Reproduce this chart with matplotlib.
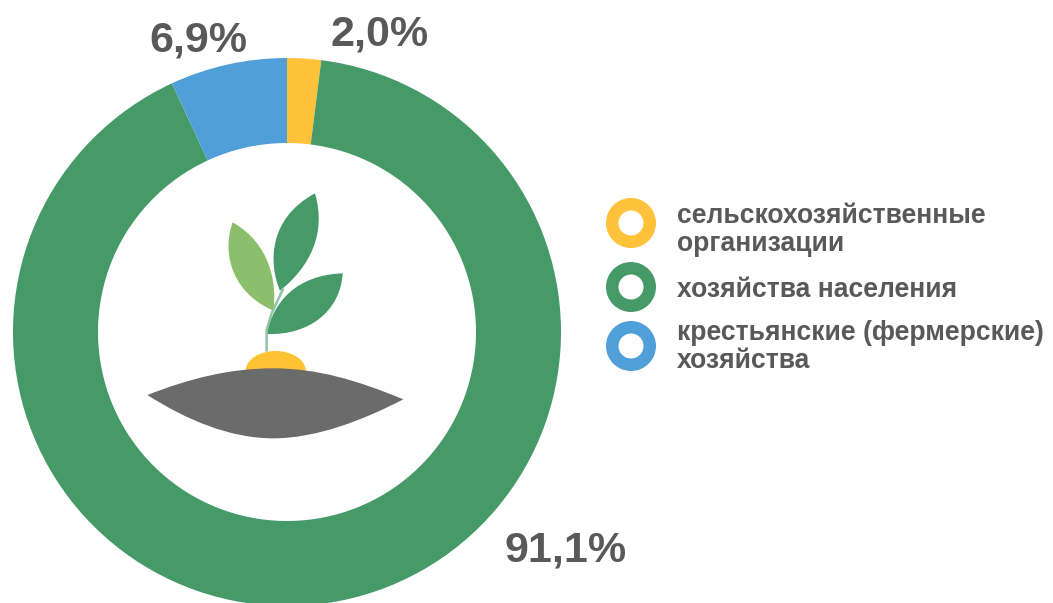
import matplotlib
matplotlib.use('Agg')
import matplotlib.pyplot as plt
from matplotlib.patches import PathPatch, Wedge, Ellipse
from matplotlib.path import Path

labels = ['сельскохозяйственные\nорганизации', 'хозяйства населения', 'крестьянские (фермерские)\nхозяйства']
values = [2.0, 91.1, 6.9]
value_text = ['2,0%', '91,1%', '6,9%']
colors = ['#FFC23A', '#459A67', '#519FD9']

W, H = 1053, 603
TEXT = '#595959'
plt.rcParams['font.family'] = ['Liberation Sans', 'DejaVu Sans']

fig = plt.figure(figsize=(W/100, H/100), dpi=100)
ax = fig.add_axes([0, 0, 1, 1])

# donut
ax.pie(values, colors=colors, startangle=90, counterclock=False,
       center=(287, H-332), radius=274, wedgeprops=dict(width=85, linewidth=0))
ax.set_xlim(0, W)
ax.set_ylim(0, H)
ax.set_aspect('equal')
ax.axis('off')

# value labels
label_pos = [(380, 34), (566, 550), (198, 41)]
for t, (x, y) in zip(value_text, label_pos):
    ax.text(x, H-y, t, fontsize=31, fontweight='bold', color=TEXT, ha='center', va='center')

# legend
ring_y = [223, 287, 346]
text_y = [230, 290, 347]
for lab, c, ry, ty in zip(labels, colors, ring_y, text_y):
    ax.add_patch(Wedge((631, H-ry), 25, 0, 360, width=12.5, fc=c, lw=0))
    ax.text(677, H-ty, lab, fontsize=19.1, fontweight='bold', color=TEXT, ha='left', va='center', linespacing=1.14)


# plant icon, points taken from the zoomed crop
def z(x, y):
    return (130 + x/3, H - (170 + y/3))

def shape(pts, color, **kw):
    codes = [Path.MOVETO] + [Path.CURVE4]*(len(pts)-1)
    ax.add_patch(PathPatch(Path([z(*p) for p in pts], codes), fc=color, lw=0, **kw))

# stem
ax.plot(*zip(z(410, 545), z(410, 480), z(425, 430), z(460, 355)), color='#8FC4A3', lw=1.8, solid_capstyle='butt')

shape([(308, 157), (280, 230), (290, 360), (430, 422), (442, 340), (420, 220), (308, 157)], '#8BBF6B')
shape([(555, 70), (590, 190), (540, 290), (450, 362), (415, 280), (415, 145), (555, 70)], '#459A67')
shape([(638, 310), (632, 420), (540, 497), (410, 492), (430, 395), (500, 315), (638, 310)], '#459A67')

ax.add_patch(Ellipse(z(437, 602), 180/3, 118/3, fc='#FFC233', lw=0))
shape([(52, 675), (180, 625), (300, 595), (430, 595), (560, 595), (680, 630), (820, 688),
       (700, 750), (560, 805), (430, 805), (300, 805), (170, 750), (52, 675)], '#6B6B6B')

fig.savefig('out.png', dpi=100)
